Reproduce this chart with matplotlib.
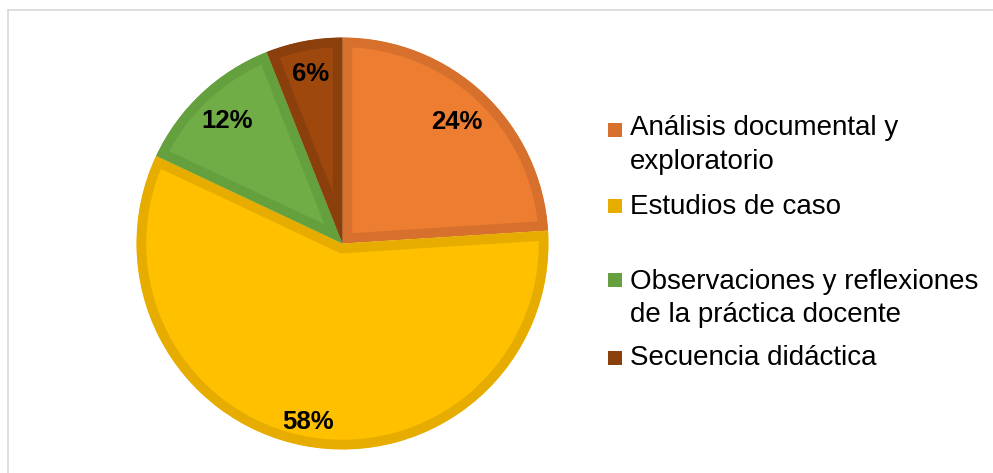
import matplotlib
matplotlib.use('Agg')
import matplotlib.pyplot as plt
from matplotlib.patches import Rectangle
from matplotlib.lines import Line2D

# porcentajes por tipo de estudio
categorias = ['Análisis documental y\nexploratorio', 'Estudios de caso',
              'Observaciones y reflexiones\nde la práctica docente', 'Secuencia didáctica']
valores = [24, 58, 12, 6]

relleno = ['#ED7D31', '#FFC000', '#70AD47', '#9E480E']
borde = ['#D6702C', '#E6AD00', '#65A03F', '#8B3F0C']

plt.rcParams['font.family'] = ['Liberation Sans', 'DejaVu Sans']

W, H = 993, 473
fig = plt.figure(figsize=(W / 100, H / 100), dpi=100)

# marco gris claro (solo arriba e izquierda)
fig.add_artist(Line2D([8 / W, 8 / W], [0, 1 - 10 / H], transform=fig.transFigure,
                      color='#D9D9D9', lw=1.2))
fig.add_artist(Line2D([8 / W, 1], [1 - 10 / H, 1 - 10 / H], transform=fig.transFigure,
                      color='#D9D9D9', lw=1.2))

cx, cy, r = 342.5, 243.5, 206
m = 1.05  # margen para que el borde no se corte
ax = fig.add_axes([(cx - r * m) / W, (H - cy - r * m) / H, 2 * r * m / W, 2 * r * m / H])
pd0 = 0.84
wedges, textos, pcts = ax.pie(valores, colors=relleno, startangle=90, counterclock=False,
                              radius=1.0, autopct='%d%%', pctdistance=pd0,
                              textprops=dict(fontsize=18.5, fontweight='bold', color='black'))
ax.set_xlim(-m, m)
ax.set_ylim(-m, m)
ax.set_aspect('equal')
ax.axis('off')

for w, c in zip(wedges, borde):
    # borde interior: trazo grueso recortado a la propia cuña
    w.set_edgecolor(c)
    w.set_linewidth(14)
    w.set_clip_on(True)
    w.set_clip_path(w.get_path(), ax.transData)

# distancia radial de cada etiqueta
dist = [0.812, 0.881, 0.817, 0.84]
for t, d in zip(pcts, dist):
    x, y = t.get_position()
    t.set_position((x * d / pd0, y * d / pd0))

# leyenda a mano
y_lineas = [[128, 162], [207], [282, 315], [358]]
y_cuadro = [130, 206, 280, 358]
for cat, ec, ys, yc in zip(categorias, borde, y_lineas, y_cuadro):
    fig.add_artist(Rectangle((608 / W, 1 - (yc + 7) / H), 14 / W, 14 / H,
                             transform=fig.transFigure, facecolor=ec, edgecolor='none'))
    for linea, y in zip(cat.split('\n'), ys):
        fig.text(630 / W, 1 - y / H, linea, fontsize=20, va='center', ha='left', color='black')

fig.savefig('out.png', dpi=100)
